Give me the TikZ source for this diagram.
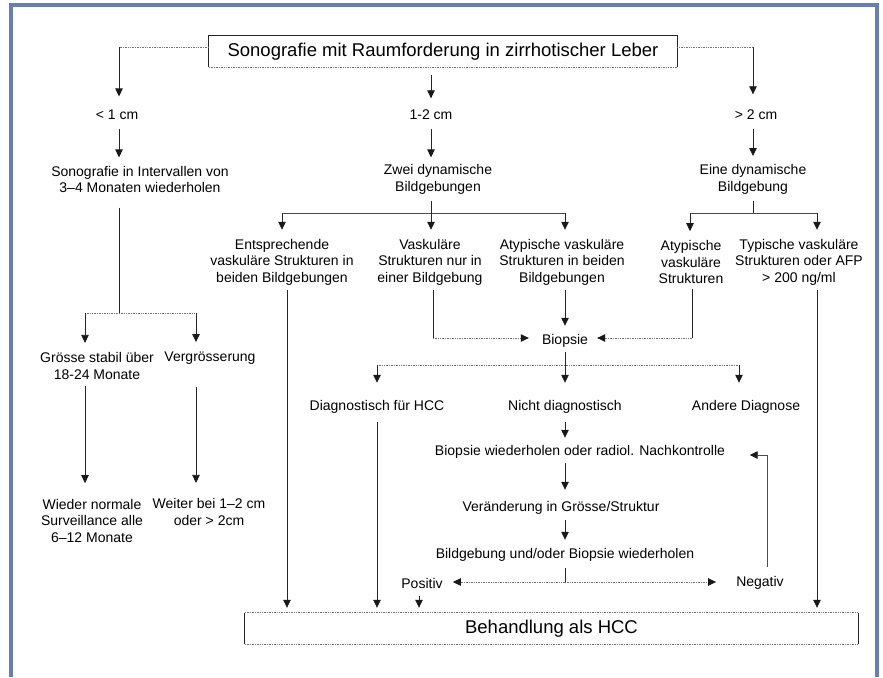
\documentclass[tikz,border=0pt]{standalone}
\usepackage{fontspec}
\setmainfont{Liberation Sans}
\usetikzlibrary{arrows.meta}
\definecolor{framec}{RGB}{104,126,178}
\begin{document}
\begin{tikzpicture}[x=1pt,y=-1pt,
  txt/.style={align=center,inner sep=0pt,font=\fontsize{14}{16.5}\selectfont},
  big/.style={inner sep=0pt,font=\fontsize{18.5}{21}\selectfont},
  ln/.style={draw=black!85,line width=0.8pt},
  dl/.style={draw=black!55,line width=0.8pt,dash pattern=on 0.8pt off 0.9pt},
  tip/.style={-{Triangle[width=7.5pt,length=8pt,color=black!90]}},
  frame/.style={draw=framec,line width=3.2pt}]
\useasboundingbox (0,0) rectangle (883,677);
\draw[frame] (11,677) -- (11,5) -- (877,5) -- (877,677);

% boxes
\node[big,minimum width=468pt,minimum height=31pt] (title) at (443,51.5) {Sonografie mit Raumforderung in zirrhotischer Leber};
\draw[ln,line width=0.7pt] (title.south west) -- (title.north west) -- (title.north east) -- (title.south east);
\draw[dl] (title.south west) -- (title.south east);
\node[big,minimum width=613pt,minimum height=31pt] (hcc) at (551.5,628.5) {Behandlung als HCC};
\draw[ln,line width=0.7pt] (hcc.north west) -- (hcc.south west) (hcc.north east) -- (hcc.south east);
\draw[dl] (hcc.north west) -- (hcc.north east) (hcc.south west) -- (hcc.south east);

% text nodes
\node[txt] (s1) at (117,115) {< 1 cm};
\node[txt] (s2) at (431,115) {1-2 cm};
\node[txt] (s3) at (756,115) {> 2 cm};
\node[txt] (a1) at (140,179.5) {Sonografie in Intervallen von\\3–4 Monaten wiederholen};
\node[txt] (b1) at (438,179.5) {Zwei dynamische\\Bildgebungen};
\node[txt] (c1) at (753,179.5) {Eine dynamische\\Bildgebung};
\node[txt] (a2) at (97,366) {Grösse stabil über\\18-24 Monate};
\node[txt] (a3) at (210,358) {Vergrösserung};
\node[txt] (a4) at (92,520.5) {Wieder normale\\Surveillance alle\\6–12 Monate};
\node[txt] (a5) at (209,512) {Weiter bei 1–2 cm\\oder > 2cm};
\node[txt] (b2) at (282,262) {Entsprechende\\vaskuläre Strukturen in\\beiden Bildgebungen};
\node[txt] (b3) at (430,262) {Vaskuläre\\Strukturen nur in\\einer Bildgebung};
\node[txt] (b4) at (562,262) {Atypische vaskuläre\\Strukturen in beiden\\Bildgebungen};
\node[txt] (c2) at (691,262) {Atypische\\vaskuläre\\Strukturen};
\node[txt] (c3) at (799,262) {Typische vaskuläre\\Strukturen oder AFP\\> 200 ng/ml};
\node[txt] (bio) at (565,341) {Biopsie};
\node[txt] (d1) at (377,407) {Diagnostisch für HCC};
\node[txt] (d2) at (565,407) {Nicht diagnostisch};
\node[txt] (d3) at (746,407) {Andere Diagnose};
\node[txt] (e1) at (580,452) {Biopsie wiederholen oder radiol. Nachkontrolle};
\node[txt] (e2) at (561,508) {Veränderung in Grösse/Struktur};
\node[txt] (e3) at (565,555) {Bildgebung und/oder Biopsie wiederholen};
\node[txt] (pos) at (422,583) {Positiv};
\node[txt] (neg) at (760,583) {Negativ};

% junction coordinates
\coordinate (tl) at (119,47);
\coordinate (tr) at (753,47);
\coordinate (ja) at (119,313);
\coordinate (ja1) at (85,313);
\coordinate (ja2) at (196,313);
\coordinate (jb) at (431,213);
\coordinate (jb1) at (282,213);
\coordinate (jb3) at (565,213);
\coordinate (jc) at (753,213);
\coordinate (jc1) at (690,213);
\coordinate (jc2) at (817,213);
\coordinate (jv) at (433,338);
\coordinate (jw) at (692,338);
\coordinate (jd1) at (377,365);
\coordinate (jd3) at (739,365);
\coordinate (je) at (565,582);
\coordinate (jn) at (767,455);
\coordinate (xb2) at (287,0);
\coordinate (xp) at (419,0);

% top level
\draw[dl] (title.west |- tl) -- (tl);
\draw[ln,tip,shorten >=13.5pt] (tl) -- (tl |- s1.north);
\draw[ln,tip,shorten <=8pt,shorten >=11.5pt] (title.south -| s2) -- (s2.north);
\draw[dl] (title.east |- tr) -- (tr);
\draw[ln,tip,shorten >=15.5pt] (tr) -- (tr |- s3.north);

\draw[ln,tip,shorten <=8.5pt,shorten >=8.5pt] (s1.south -| tl) -- (a1.north -| tl);
\draw[ln,tip,shorten <=8.5pt,shorten >=8.5pt] (s2.south) -- (a1.north -| s2);
\draw[ln,tip,shorten <=8.5pt,shorten >=8.5pt] (s3.south -| c1) -- (c1.north);

% left branch
\draw[ln,shorten <=14.5pt] (a1.south -| ja) -- (ja);
\draw[dl] (ja1) -- (ja2);
\draw[ln,tip,shorten >=9.5pt] (ja1) -- (ja1 |- a2.north);
\draw[ln,tip,shorten >=9.5pt] (ja2) -- (ja2 |- a3.north);
\draw[ln,tip,shorten <=6.5pt,shorten >=15.5pt] (a2.south -| ja1) -- (a4.north -| ja1);
\draw[ln,tip,shorten <=22.5pt,shorten >=15.5pt] (a3.south -| ja2) -- (a5.north -| ja2);

% middle branch
\draw[ln,shorten <=6.5pt] (b1.south -| jb) -- (jb);
\draw[ln,draw=black!70] (jb1) -- (jb3);
\draw[ln,tip,shorten >=9pt] (jb1) -- (jb1 |- b2.north);
\draw[ln,tip,shorten >=9pt] (jb) -- (jb |- b3.north);
\draw[ln,tip,shorten >=9pt] (jb3) -- (jb3 |- b4.north);

% right branch
\draw[ln,shorten <=6.5pt] (c1.south -| jc) -- (jc);
\draw[ln,draw=black!70] (jc1) -- (jc2);
\draw[ln,tip,shorten >=9pt] (jc1) -- (jc1 |- c2.north);
\draw[ln,tip,shorten >=9pt] (jc2) -- (jc2 |- c3.north);

% to Behandlung / Biopsie
\draw[ln,tip,shorten <=5pt,shorten >=5pt] (b2.south -| xb2) -- (hcc.north -| xb2);
\draw[ln,shorten <=5pt] (b3.south -| jv) -- (jv);
\draw[dl,tip,shorten >=13pt] (jv) -- (bio.west |- jv);
\draw[ln,tip,shorten <=5pt,shorten >=8.5pt] (b4.south -| bio) -- (bio.north);
\draw[ln,shorten <=5pt] (c2.south -| jw) -- (jw);
\draw[dl,tip,shorten >=9pt] (jw) -- (bio.east |- jw);
\draw[ln,tip,shorten <=5pt,shorten >=5pt] (c3.south -| jc2) -- (hcc.north -| jc2);

% after biopsy
\draw[dl] (jd1) -- (jd3);
\draw[ln,tip,shorten <=4.5pt,shorten >=17.5pt] (bio.south) -- (d2.north);
\draw[ln,tip,shorten >=17.5pt] (jd1) -- (jd1 |- d1.north);
\draw[ln,tip,shorten >=17.5pt] (jd3) -- (jd3 |- d3.north);
\draw[ln,tip,shorten <=8.5pt,shorten >=5pt] (d1.south) -- (hcc.north -| d1);
\draw[ln,tip,shorten <=8.5pt,shorten >=7.5pt] (d2.south) -- (e1.north -| d2);
\draw[ln,tip,shorten <=4.5pt,shorten >=11.5pt] (e1.south -| d2) -- (e2.north -| d2);
\draw[ln,tip,shorten <=5.5pt,shorten >=8.5pt] (e2.south -| d2) -- (e3.north -| d2);
\draw[ln,shorten <=6.5pt] (e3.south -| je) -- (je);
\draw[dl,tip,shorten >=10pt] (je) -- (pos.east |- je);
\draw[dl,tip,shorten >=20pt] (je) -- (neg.west |- je);
\draw[ln,tip,shorten <=7.5pt,shorten >=5pt] (pos.south -| xp) -- (hcc.north -| xp);
\draw[ln,draw=black!70,tip,shorten <=9.5pt,shorten >=24.5pt] (neg.north -| jn) -- (jn) -- (e1.east |- jn);
\end{tikzpicture}
\end{document}
